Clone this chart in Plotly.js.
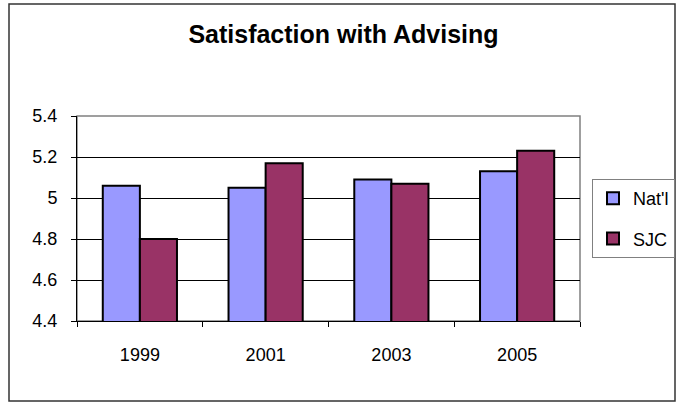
<!DOCTYPE html>
<html>
<head>
<meta charset="utf-8">
<script src="https://cdn.plot.ly/plotly-3.0.1.min.js"></script>
<style>html,body{margin:0;padding:0;background:#fff;}#chart{width:681px;height:402px;}</style>
</head>
<body>
<div id="chart"></div>
<script>
const years = ["1999", "2001", "2003", "2005"];
const natl = [5.06, 5.05, 5.09, 5.13];
const sjc = [4.80, 5.17, 5.07, 5.23];
const seriesNames = ["Nat'l", "SJC"];
const yTicks = [4.4, 4.6, 4.8, 5.0, 5.2, 5.4];
const yTickLabels = ["4.4", "4.6", "4.8", "5", "5.2", "5.4"];

const W = 681, H = 402;
const L = 77, R = 580, T = 116, B = 321;
const pw = R - L, ph = B - T;
const px = v => (v - L) / pw;
const py = v => (B - v) / ph;

const font = "Arial, 'Liberation Sans', sans-serif";

const traces = [
  {type: 'bar', x: years, y: natl, name: seriesNames[0], base: 0,
   marker: {color: '#9999FF', line: {color: '#000', width: 2}}, legendgroup: 'a'},
  {type: 'bar', x: years, y: sjc, name: seriesNames[1], base: 0,
   marker: {color: '#993366', line: {color: '#000', width: 2}}, legendgroup: 'b'}
];

const layout = {
  width: W, height: H,
  margin: {l: L, r: W - R, t: T, b: H - B, pad: 0, autoexpand: false},
  paper_bgcolor: '#fff', plot_bgcolor: '#fff',
  font: {family: font, size: 18, color: '#000'},
  title: {text: '<b>Satisfaction with Advising</b>', font: {family: font, size: 25, color: '#000'},
          x: (343.5 - L) / pw, xref: 'paper', xanchor: 'center', y: 1 - 34 / H, yanchor: 'middle', yref: 'container'},
  barmode: 'group', bargap: 0.41, bargroupgap: 0,
  showlegend: true,
  legend: {xref: 'container', yref: 'container', x: 592 / W, xanchor: 'left', y: 1 - 179 / H, yanchor: 'top',
           bordercolor: '#808080', borderwidth: 1, bgcolor: '#fff',
           font: {family: font, size: 18, color: '#000'},
           traceorder: 'grouped', tracegroupgap: 14, itemwidth: 30},
  xaxis: {type: 'category', showline: true, linecolor: '#000', linewidth: 1,
          ticks: 'outside', tickson: 'boundaries', ticklen: 5, tickcolor: '#000', tickwidth: 1,
          showgrid: false, zeroline: false, ticklabelstandoff: 17,
          tickfont: {family: font, size: 18, color: '#000'}, fixedrange: true},
  yaxis: {range: [4.4, 5.4], tickvals: yTicks, ticktext: yTickLabels,
          showline: true, linecolor: '#000', linewidth: 1,
          ticks: 'outside', ticklen: 5, tickcolor: '#000', tickwidth: 1,
          showgrid: true, gridcolor: '#000', gridwidth: 1, zeroline: false,
          ticklabelstandoff: 10,
          tickfont: {family: font, size: 18, color: '#000'}, fixedrange: true},
  shapes: [
    {type: 'rect', xref: 'paper', yref: 'paper', x0: 0, x1: 1, y0: 0, y1: 1,
     line: {color: '#808080', width: 1.5}, layer: 'below'},
    {type: 'rect', xref: 'paper', yref: 'paper', x0: px(9), x1: px(675), y0: py(401), y1: py(4),
     line: {color: '#333', width: 1.5}, layer: 'below'}
  ]
};

Plotly.newPlot('chart', traces, layout, {displayModeBar: false, staticPlot: true});
</script>
</body>
</html>
